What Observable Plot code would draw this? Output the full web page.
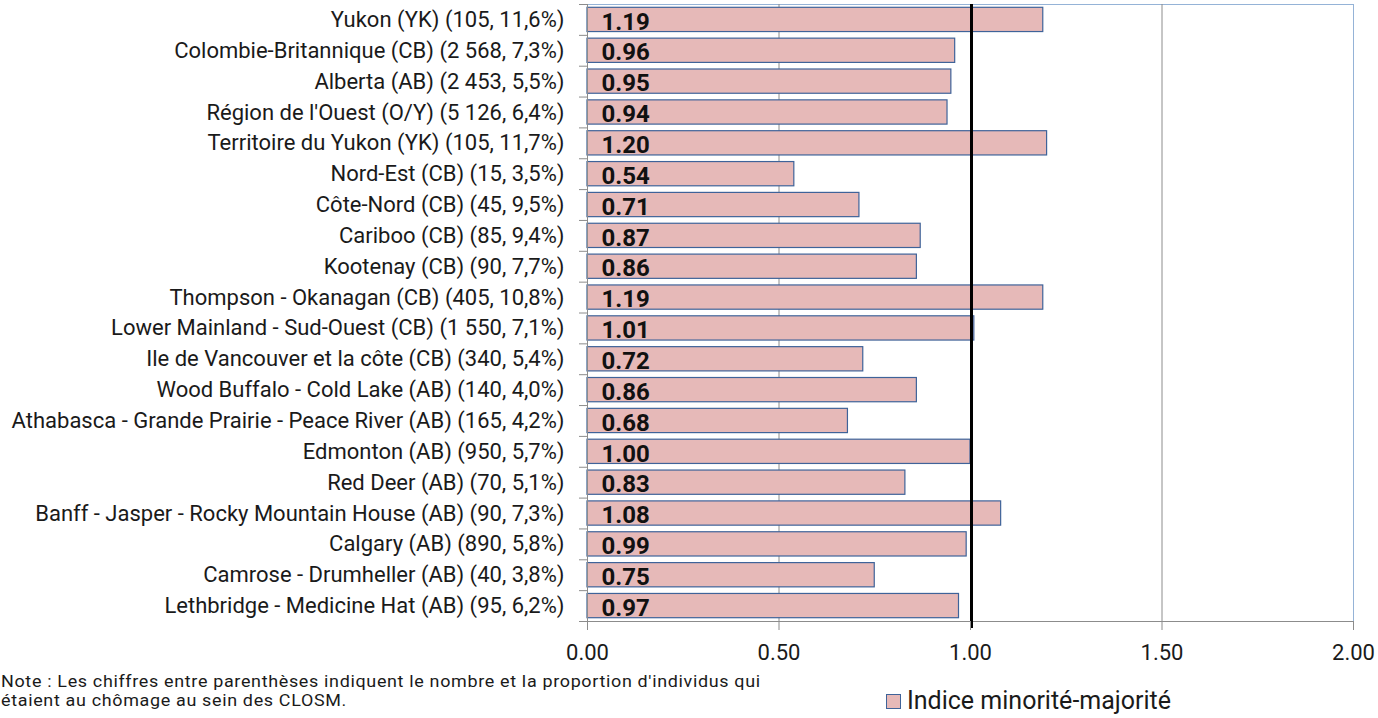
<!DOCTYPE html>
<html>
<head>
<meta charset="utf-8">
<script src="https://cdn.jsdelivr.net/npm/d3@7"></script>
<script src="https://cdn.jsdelivr.net/npm/@observablehq/plot@0.6"></script>
<style>
  html, body { margin: 0; padding: 0; background: #fff; overflow: hidden; }
  #chart svg { display: block; }
  #below { position: relative; height: 42px; font-family: Roboto, sans-serif; color: #1a1a1a; }
  .noteLine { position: absolute; font-family: Roboto, sans-serif; font-size: 16px; line-height: 19px; letter-spacing: 0.6px; white-space: nowrap; transform: scaleX(1.12); transform-origin: 0 0; }
  #note1 { left: 1px; top: -4px; }
  #note2 { left: 1px; top: 15px; }
  #legend { position: absolute; left: 886px; top: 12px; font-size: 25px; line-height: 26px; white-space: nowrap; display: flex; align-items: center; }
  #legend .sw { width: 15px; height: 15px; background: #e6b9b8; border: 1.5px solid #3f6399; margin-right: 6px; box-sizing: border-box; }
</style>
</head>
<body>
<div id="chart"></div>
<div id="below">
  <div class="noteLine" id="note1"></div>
  <div class="noteLine" id="note2"></div>
  <div id="legend"><span class="sw"></span><span id="legendText"></span></div>
</div>
<script>
const categories = [
  "Yukon (YK) (105, 11,6%)",
  "Colombie-Britannique (CB) (2 568, 7,3%)",
  "Alberta (AB) (2 453, 5,5%)",
  "Région de l'Ouest (O/Y) (5 126, 6,4%)",
  "Territoire du Yukon (YK) (105, 11,7%)",
  "Nord-Est (CB) (15, 3,5%)",
  "Côte-Nord (CB) (45, 9,5%)",
  "Cariboo (CB) (85, 9,4%)",
  "Kootenay (CB) (90, 7,7%)",
  "Thompson - Okanagan (CB) (405, 10,8%)",
  "Lower Mainland - Sud-Ouest (CB) (1 550, 7,1%)",
  "Ile de Vancouver et la côte (CB) (340, 5,4%)",
  "Wood Buffalo - Cold Lake (AB) (140, 4,0%)",
  "Athabasca - Grande Prairie - Peace River (AB) (165, 4,2%)",
  "Edmonton (AB) (950, 5,7%)",
  "Red Deer (AB) (70, 5,1%)",
  "Banff - Jasper - Rocky Mountain House (AB) (90, 7,3%)",
  "Calgary (AB) (890, 5,8%)",
  "Camrose - Drumheller (AB) (40, 3,8%)",
  "Lethbridge - Medicine Hat (AB) (95, 6,2%)"
];
const values = [1.19, 0.96, 0.95, 0.94, 1.20, 0.54, 0.71, 0.87, 0.86, 1.19,
                1.01, 0.72, 0.86, 0.68, 1.00, 0.83, 1.08, 0.99, 0.75, 0.97];
const xTicks = [0, 0.5, 1, 1.5, 2];
const gridValues = [0.5, 1, 1.5];
const referenceValue = 1;
const seriesName = "Indice minorité-majorité";
const noteLines = [
  "Note : Les chiffres entre parenthèses indiquent le nombre et la proportion d'individus qui",
  "étaient au chômage au sein des CLOSM."
];

const data = categories.map((c, i) => ({label: c, value: values[i], i}));
const n = categories.length;

const chart = Plot.plot({
  width: 1378,
  height: 676,
  marginLeft: 587,
  marginRight: 25,
  marginTop: 4,
  marginBottom: 55,
  style: {fontFamily: "Roboto, sans-serif", fontSize: "22px", color: "#1a1a1a", background: "#fff"},
  x: {type: "linear", domain: [0, 2]},
  y: {type: "linear", domain: [n, 0]},
  marks: [
    Plot.frame({stroke: "#95b3d7"}),
    Plot.gridX(gridValues, {stroke: "#8c8c8c", strokeOpacity: 1}),
    Plot.rect(data, {
      x1: () => 0, x2: "value", y1: "i", y2: d => d.i + 1,
      insetTop: 3.3, insetBottom: 3.3,
      fill: "#e6b9b8", stroke: "#3f6399", strokeWidth: 1.2
    }),
    Plot.ruleX([0], {stroke: "#8c8c8c"}),
    Plot.ruleY([n], {stroke: "#8c8c8c"}),
    Plot.ruleX([referenceValue], {stroke: "#000", strokeWidth: 3, dx: 1, insetBottom: -7}),
    Plot.text(data, {
      x: () => 0, y: d => d.i + 0.5, text: d => d.value.toFixed(2),
      textAnchor: "start", dx: 14, dy: 2,
      fontWeight: "bold", fontSize: 24, fill: "#111"
    }),
    Plot.axisY(d3.range(0, n + 1), {tickSize: 8, tickFormat: () => "", stroke: "#8c8c8c", label: null}),
    Plot.axisY(d3.range(0, n).map(i => i + 0.5), {
      tickSize: 0, tickPadding: 23, label: null,
      tickFormat: d => categories[Math.floor(d)], fill: "#1a1a1a", fontSize: 22
    }),
    Plot.axisX(xTicks, {
      tickSize: 9, tickPadding: 14, label: null,
      tickFormat: d3.format(".2f"), stroke: "#8c8c8c", fill: "#1a1a1a", fontSize: 22
    })
  ]
});
document.getElementById("chart").appendChild(chart);
document.getElementById("note1").textContent = noteLines[0];
document.getElementById("note2").textContent = noteLines[1];
document.getElementById("legendText").textContent = seriesName;
</script>
</body>
</html>
